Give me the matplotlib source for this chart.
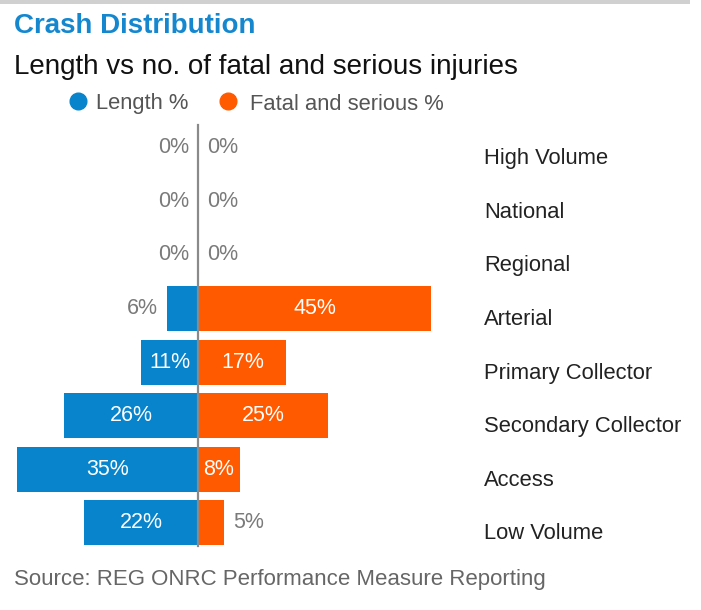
"""
Crash Distribution: length % vs fatal and serious % by ONRC road class.
Diverging horizontal bars around a central axis.
"""
import matplotlib
matplotlib.use('Agg')
import matplotlib.pyplot as plt
from matplotlib.lines import Line2D
from matplotlib.patches import Rectangle

# ---- Data ----
categories = ['High Volume', 'National', 'Regional', 'Arterial',
              'Primary Collector', 'Secondary Collector', 'Access', 'Low Volume']
length_pct = [0, 0, 0, 6, 11, 26, 35, 22]
fatal_pct = [0, 0, 0, 45, 17, 25, 8, 5]

BLUE = '#0784cc'
ORANGE = '#ff5a00'
GREY_TXT = '#7a7a7a'

plt.rcParams['font.family'] = ['Liberation Sans', 'DejaVu Sans']

W, H = 701, 610
fig = plt.figure(figsize=(W / 100, H / 100), dpi=100)


def fx(x):
    return x / W


def fy(y):
    return 1 - y / H


# top grey border
fig.add_artist(Rectangle((0, fy(4)), fx(690), 4 / H, transform=fig.transFigure,
                         color='#d0d0d0', lw=0))

# titles
fig.text(fx(14), fy(26), 'Crash Distribution', fontsize=20, fontweight='bold',
         color='#1487cf', ha='left', va='center')
fig.text(fx(14), fy(67), 'Length vs no. of fatal and serious injuries', fontsize=20,
         color='#111111', ha='left', va='center')

# legend (manual, centred over the chart)
for cx, tx, col, lab in [(78, 96, BLUE, 'Length %'), (228, 250, ORANGE, 'Fatal and serious %')]:
    fig.add_artist(Line2D([fx(cx)], [fy(101)], marker='o', markersize=12, color=col,
                          transform=fig.transFigure, linestyle='none'))
    fig.text(fx(tx), fy(104), lab, fontsize=15.8, color='#555555', ha='left', va='center')

# ---- bars ----
top_px, bot_px = 120.9, 549.7
ax = fig.add_axes([0, fy(bot_px), fx(480), (bot_px - top_px) / H])
ax.set_xlim(-38.3, 54.4)
ax.set_ylim(len(categories) - 0.5, -0.5)
ax.axis('off')

ypos = list(range(len(categories)))
ax.barh(ypos, [-v for v in length_pct], height=0.84, color=BLUE, lw=0)
ax.barh(ypos, fatal_pct, height=0.84, color=ORANGE, lw=0)
ax.axvline(0, ymin=0.009, ymax=0.99, color='#8a8a8a', lw=1.6)

for y, v in zip(ypos, length_pct):
    if v >= 7:
        ax.text(-v / 2, y, f'{v}%', color='white', fontsize=15.5, ha='center', va='center')
    else:
        ax.annotate(f'{v}%', xy=(-v, y), xytext=(-9, 0), textcoords='offset pixels',
                    color=GREY_TXT, fontsize=15.5, ha='right', va='center')

for y, v in zip(ypos, fatal_pct):
    if v >= 7:
        ax.text(v / 2, y, f'{v}%', color='white', fontsize=15.5, ha='center', va='center')
    else:
        ax.annotate(f'{v}%', xy=(v, y), xytext=(9, 0), textcoords='offset pixels',
                    color=GREY_TXT, fontsize=15.5, ha='left', va='center')

# category labels to the right
for y, name in zip(ypos, categories):
    ax.annotate(name, xy=(0, y), xycoords=('axes fraction', 'data'),
                xytext=(484, -11), textcoords='offset pixels',
                fontsize=15.8, color='#222222', ha='left', va='center',
                annotation_clip=False)

fig.text(fx(14), fy(580), 'Source: REG ONRC Performance Measure Reporting', fontsize=16,
         color='#666666', ha='left', va='center')

fig.savefig('out.png', dpi=100)
plt.close(fig)
